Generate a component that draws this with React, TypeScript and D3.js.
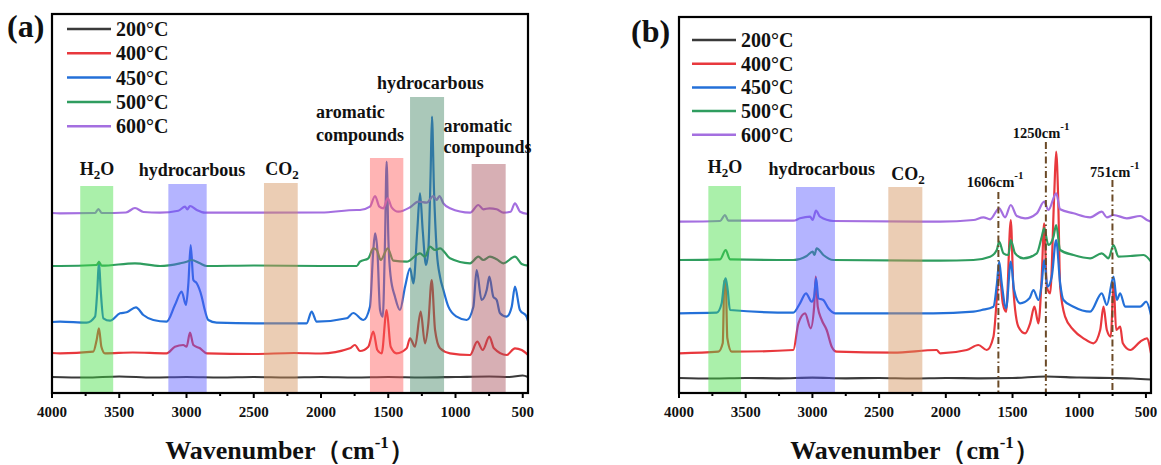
import React from 'react';
import * as d3 from 'd3';

type Pt = [number, number];

const temps = ['200°C', '400°C', '450°C', '500°C', '600°C'];
const colors = ['#3a3a3a', '#e8383d', '#2470d8', '#2f9d5f', '#a46fe0'];
const majorTicks = [4000, 3500, 3000, 2500, 2000, 1500, 1000, 500];
const minorTicks = [3750, 3250, 2750, 2250, 1750, 1250, 750];

// ---------- panel (a) spectra: [wavenumber, intensity (a.u.)] ----------
const a200: Pt[] = [[4000,16],[3750,15.5],[3500,16.5],[3250,15.5],[3000,16],[2750,15.5],[2500,16],[2250,15.5],[2000,16],[1750,15.5],[1500,16],[1250,15.5],[1000,16],[750,16.5],[600,16],[500,17.5],[461,16]];
const a400: Pt[] = [[4000,40],[3940,39.7],[3693,41.3],[3668,53],[3651,64.7],[3633,46.3],[3606,39.7],[3400,40.5],[3148,39.7],[3086,46.3],[3024,48],[2999,46.3],[2974,60.3],[2949,48],[2900,44.7],[2850,39.7],[2500,39],[2200,40],[2000,39.5],[1785,44.7],[1748,48],[1710,42],[1648,46.3],[1611,61.3],[1581,43],[1549,39.7],[1512,83],[1482,46.3],[1438,39.7],[1363,44.7],[1338,54.7],[1301,46.3],[1259,81.3],[1227,49.7],[1202,69.7],[1177,113],[1152,63],[1115,44.7],[1041,39.7],[892,38],[838,51.3],[798,43],[748,56.3],[714,44.7],[620,38],[558,44.7],[508,43],[461,38]];
const a450: Pt[] = [[4000,71],[3940,71.3],[3742,70.3],[3680,76.3],[3663,103],[3651,131.3],[3638,103],[3618,74.7],[3569,72.3],[3494,79.7],[3445,80.7],[3376,85.7],[3321,78],[3247,73],[3148,71.3],[3086,88],[3036,101.3],[3004,88],[2986,109.7],[2969,148],[2949,113],[2924,109.7],[2887,96.3],[2870,86.3],[2838,73],[2776,70.3],[2454,69.7],[2107,69.7],[2070,81.3],[2032,71.3],[1809,74.7],[1760,80],[1685,73],[1636,86.3],[1611,143],[1598,159.7],[1581,143],[1561,83],[1541,76.3],[1524,153],[1512,231.3],[1499,153],[1482,116.3],[1450,96.3],[1413,83],[1375,106.3],[1338,124.7],[1313,109.7],[1284,163],[1264,199.7],[1244,163],[1219,128],[1202,143],[1185,219.7],[1175,276.3],[1160,203],[1140,143],[1115,116.3],[1090,103],[1053,86.3],[991,76.3],[917,73],[867,86.3],[843,123],[806,93],[768,103],[748,116.3],[719,96.3],[694,93],[669,79.7],[620,76.3],[582,86.3],[558,106.3],[521,83],[471,76.3],[461,72]];
const a500: Pt[] = [[4000,127],[3940,127],[3668,128],[3651,131],[3631,127.3],[3383,129.7],[3197,127],[3048,129.7],[2999,131.3],[2962,133],[2900,129.7],[2850,127],[2500,127.5],[2000,127],[1735,127],[1710,131.3],[1648,134.7],[1611,144.7],[1586,143],[1556,133],[1504,144.7],[1462,132.3],[1363,131.3],[1264,139.7],[1227,136.3],[1190,146.3],[1152,143],[1115,144.7],[1041,134.7],[892,129.7],[830,136.3],[793,133],[744,136.3],[694,133.7],[644,129.7],[558,136.3],[508,129],[461,127.3]];
const a600: Pt[] = [[4000,180],[3940,179.7],[3680,180],[3655,184],[3630,180],[3450,180.5],[3383,185],[3320,181],[3197,180.3],[3061,182.3],[3011,186.3],[2994,183.7],[2974,187],[2924,183],[2863,180.3],[2454,180.3],[2000,180.5],[1735,183],[1710,183],[1636,186.3],[1598,197],[1566,186.3],[1536,184.7],[1504,194.7],[1475,185.7],[1425,181.3],[1338,185.7],[1276,191.3],[1214,190.3],[1165,197],[1140,193],[1120,197],[1090,189.7],[1041,184.7],[892,180.3],[830,188],[793,183.7],[748,184.7],[694,183.7],[644,180.3],[590,181.3],[558,189.7],[520,181.3],[461,179]];

// ---------- panel (b) spectra ----------
const b200: Pt[] = [[4000,15],[3750,14.5],[3500,15],[3250,14.7],[3000,15.3],[2750,14.7],[2500,15],[2250,14.5],[2000,15],[1750,14.7],[1500,15],[1250,16.5],[1000,15.5],[750,15],[600,14.5],[462,13.5]];
const b400: Pt[] = [[4000,39.7],[3705,41.3],[3672,50],[3660,112],[3650,113],[3638,55],[3605,41.3],[3143,43],[3105,69.7],[3055,79.7],[3013,64.7],[2987,86.3],[2975,116.3],[2960,86.3],[2930,73],[2893,63],[2855,46.3],[2818,41.3],[2393,40.3],[2068,43],[2043,39.7],[1843,43],[1756,48],[1693,43],[1643,56.3],[1613,103],[1600,123],[1573,89.7],[1548,81.3],[1513,173],[1493,103],[1456,66.3],[1406,59.7],[1368,69.7],[1336,86.3],[1306,69.7],[1281,116.3],[1263,169.7],[1243,106.3],[1218,99.7],[1188,196.3],[1173,241.3],[1158,196.3],[1143,106.3],[1106,76.3],[1043,63],[968,54.7],[893,49.7],[843,63],[818,86.3],[793,63],[763,56.3],[743,109.7],[723,63],[693,66.3],[673,49.7],[618,43],[543,51.3],[493,54.7],[462,39.7]];
const b450: Pt[] = [[4000,79.7],[3717,80.3],[3680,89.7],[3662,109.7],[3650,114.7],[3635,103],[3618,83],[3143,80.3],[3093,89.7],[3048,99.7],[3005,91.3],[2987,96.3],[2972,114.7],[2955,94.7],[2918,93],[2880,84.7],[2830,79.7],[2093,79.7],[1793,81.3],[1731,83],[1643,86.3],[1618,108],[1600,131.3],[1581,109.7],[1548,84.7],[1513,131.3],[1488,103],[1443,89.7],[1373,94.7],[1343,103],[1306,93],[1281,109.7],[1263,133],[1238,106.3],[1206,116.3],[1173,153],[1143,109.7],[1118,93],[1043,86.3],[918,81.3],[831,99.7],[793,88],[743,116.3],[718,93],[693,99.7],[656,86.3],[543,86.3],[498,91.3],[462,78]];
const b500: Pt[] = [[4000,133],[3692,133.7],[3650,143],[3618,133.7],[3143,133],[3043,137],[2998,141.3],[2985,138],[2968,144.7],[2918,138],[2843,133],[2043,132.3],[1793,133],[1668,136.3],[1618,143],[1600,151.3],[1568,139.7],[1531,138],[1513,153],[1481,139.7],[1418,134.7],[1318,139.7],[1281,156.3],[1263,164.7],[1231,148],[1193,156.3],[1173,168],[1143,143],[1043,138],[918,134.7],[831,139.7],[781,134.7],[743,148],[706,136.3],[618,137],[518,138],[462,131.3]];
const b600: Pt[] = [[4000,171.3],[3692,172],[3655,178],[3630,172.3],[3143,172.3],[3093,174.7],[3018,176.3],[2998,173],[2973,182.3],[2943,176.3],[2843,172],[2043,171.3],[1793,173],[1718,175.7],[1668,173.7],[1600,184.7],[1556,175.7],[1513,188],[1468,177],[1406,174.7],[1318,179.7],[1263,191.3],[1231,183],[1173,199.7],[1143,183.7],[1043,179.7],[918,175.7],[831,181.3],[793,175.7],[743,178],[643,174.7],[543,177],[493,173],[462,171.3]];

// ---------- shaded regions: [from wn, to wn, top intensity] ----------
const bandRangesA: [number, number, number][] = [[3790, 3545, 207], [3135, 2850, 209], [2424, 2173, 210], [1636, 1388, 235], [1338, 1085, 296], [880, 627, 229]];
const bandRangesB: [number, number, number][] = [[3780, 3535, 207], [3123, 2831, 206], [2431, 2176, 206]];
const bandFillsA = ['#42de42', '#5858ff', '#d39058', '#ff5858', '#428563', '#a64d58'];
const bandFillsB = ['#42de42', '#5858ff', '#d39058'];

// ---------- marker lines (b) ----------
const markerWn = [1606, 1250, 751];
const markerTop = [201, 251, 213];
const markerLabel = ['1606', '1250', '751'];
const markerLabelPos: [number, number][] = [[1843, 206], [1498, 255], [919, 216]];

const W = 1161, H = 465;
const FONT = "'Liberation Serif', 'Times New Roman', serif";

type Ann = { text: string; sub?: string; wn: number; h: number; anchor: 'start' | 'middle' };

const annA: Ann[] = [
  { text: 'H', sub: '2', wn: 3665, h: 218, anchor: 'middle' },
  { text: 'hydrocarbous', wn: 2959, h: 217, anchor: 'middle' },
  { text: 'CO', sub: '2', wn: 2290, h: 218, anchor: 'middle' },
  { text: 'aromatic', wn: 2037, h: 275, anchor: 'start' },
  { text: 'compounds', wn: 2037, h: 252, anchor: 'start' },
  { text: 'hydrocarbous', wn: 1584, h: 304, anchor: 'start' },
  { text: 'aromatic', wn: 1090, h: 261, anchor: 'start' },
  { text: 'compounds', wn: 1090, h: 240, anchor: 'start' },
];
const annB: Ann[] = [
  { text: 'H', sub: '2', wn: 3655, h: 220, anchor: 'middle' },
  { text: 'hydrocarbous', wn: 2930, h: 218, anchor: 'middle' },
  { text: 'CO', sub: '2', wn: 2283, h: 213, anchor: 'middle' },
];

interface PanelProps {
  left: number; right: number; top: number; bottom: number; xMin: number;
  series: Pt[][]; bands: [number, number, number][]; fills: string[];
  ann: Ann[]; label: string; labelX: number; labelY: number;
  legendX: number; legendY: number; legendStep: number;
  markers?: boolean;
}

function Panel(p: PanelProps) {
  const x = d3.scaleLinear().domain([4000, p.xMin]).range([p.left, p.right]);
  const y = d3.scaleLinear().domain([0, p.bottom - p.top]).range([p.bottom, p.top]);
  const line = d3.line<Pt>().x(d => x(d[0])).y(d => y(d[1])).curve(d3.curveMonotoneX);
  const order = [0, 1, 2, 3, 4];
  const cx = (p.left + p.right) / 2;
  return (
    <g>
      {order.map(i => (
        <path key={i} d={line(p.series[i]) || ''} fill="none" stroke={colors[i]} strokeWidth={2.2} strokeLinejoin="round" />
      ))}
      {p.bands.map((b, i) => (
        <rect key={i} x={x(b[0])} y={y(b[2])} width={x(b[1]) - x(b[0])} height={p.bottom - y(b[2])} fill={p.fills[i]} fillOpacity={0.45} />
      ))}
      {p.markers && markerWn.map((m, i) => (
        <g key={i}>
          <line x1={x(m)} x2={x(m)} y1={y(markerTop[i])} y2={p.bottom} stroke="#6b4a26" strokeWidth={2} strokeDasharray="7,3,1.5,3" />
          <text x={x(markerLabelPos[i][0])} y={y(markerLabelPos[i][1])} fontFamily={FONT} fontWeight="bold" fontSize={14.5} fill="#111">
            {markerLabel[i]}cm<tspan fontSize={11} dy={-8}>-1</tspan>
          </text>
        </g>
      ))}
      {p.ann.map((a, i) => (
        <text key={i} x={x(a.wn)} y={y(a.h)} textAnchor={a.anchor} fontFamily={FONT} fontWeight="bold" fontSize={18} fill="#111">
          {a.text}
          {a.sub && <tspan fontSize={13} dy={4}>{a.sub}</tspan>}
          {a.sub && a.text === 'H' && <tspan dy={-4}>O</tspan>}
        </text>
      ))}
      {/* frame */}
      <rect x={p.left} y={p.top} width={p.right - p.left} height={p.bottom - p.top} fill="none" stroke="#000" strokeWidth={2.2} />
      {majorTicks.map(t => (
        <g key={t}>
          <line x1={x(t)} x2={x(t)} y1={p.bottom} y2={p.bottom + 5} stroke="#000" strokeWidth={2} />
          <text x={x(t)} y={p.bottom + 24} textAnchor="middle" fontFamily={FONT} fontWeight="bold" fontSize={15} fill="#111">{t}</text>
        </g>
      ))}
      {minorTicks.map(t => (
        <line key={t} x1={x(t)} x2={x(t)} y1={p.bottom} y2={p.bottom + 3} stroke="#000" strokeWidth={2} />
      ))}
      <text x={cx} y={459} textAnchor="middle" fontFamily={FONT} fontWeight="bold" fontSize={26} fill="#111">
        Wavenumber（cm<tspan fontSize={17} dy={-11}>-1</tspan><tspan dy={11}>）</tspan>
      </text>
      <text x={p.labelX} y={p.labelY} fontFamily={FONT} fontWeight="bold" fontSize={32} fill="#111">{p.label}</text>
      {temps.map((t, i) => (
        <g key={t}>
          <line x1={p.legendX} x2={p.legendX + 44} y1={p.legendY + i * p.legendStep} y2={p.legendY + i * p.legendStep} stroke={colors[i]} strokeWidth={2.5} />
          <text x={p.legendX + 49} y={p.legendY + i * p.legendStep} dominantBaseline="central" fontFamily={FONT} fontWeight="bold" fontSize={20} fill="#111">{t}</text>
        </g>
      ))}
    </g>
  );
}

export default function App() {
  return (
    <svg width={W} height={H} style={{ position: 'absolute', left: 0, top: 0, background: '#fff' }}>
      <rect width={W} height={H} fill="#fff" />
      <Panel left={52} right={528} top={14} bottom={393} xMin={461}
        series={[a200, a400, a450, a500, a600]} bands={bandRangesA} fills={bandFillsA} ann={annA}
        label="(a)" labelX={7} labelY={37} legendX={67} legendY={29} legendStep={24.3} />
      <Panel left={679} right={1151} top={17} bottom={393} xMin={462}
        series={[b200, b400, b450, b500, b600]} bands={bandRangesB} fills={bandFillsB} ann={annB}
        label="(b)" labelX={631} labelY={42} legendX={692} legendY={40} legendStep={23.7} markers />
    </svg>
  );
}
